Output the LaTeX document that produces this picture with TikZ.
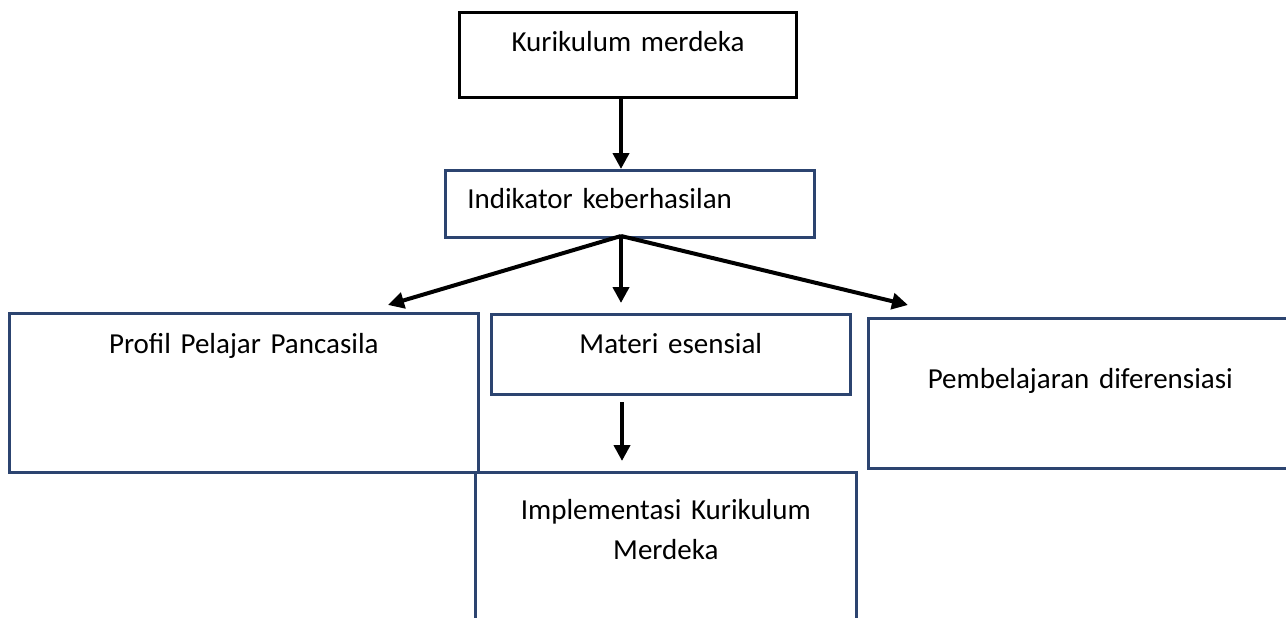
\documentclass[tikz,border=0pt]{standalone}
\usepackage{fontspec}
\setmainfont{Carlito}
\usepackage{xcolor}
\usetikzlibrary{arrows.meta,positioning}
\definecolor{navy}{HTML}{2C4470}

\begin{document}
\begin{tikzpicture}[
    x=1pt, y=-1pt,
    font=\fontsize{29}{40}\selectfont,
    box/.style={draw=navy, line width=2.6pt, anchor=north west, inner sep=0pt,
                align=center},
    topbox/.style={box, draw=black, line width=3pt},
    arr/.style={-{Triangle[length=16pt, width=16pt]}, line width=4pt}]
    \useasboundingbox (0,0) rectangle (1286,618);
    \clip (0,0) rectangle (1286,618);
    \node[topbox, text width=337pt, text height=39pt, text depth=46pt] (km) at (458,11) {Kurikulum merdeka};
    \node[box, align=left, inner xsep=22pt, text width=325pt, text height=38pt, text depth=29pt] (ind) at (444,169) {Indikator keberhasilan};
    \node[box, text width=469pt, text height=40pt, text depth=119pt] (pro) at (8,312) {Profil Pelajar Pancasila};
    \node[box, text width=359pt, text height=39pt, text depth=41pt] (mat) at (490,313) {Materi esensial};
    \node[box, text width=424pt, text height=70pt, text depth=80pt] (pem) at (867,317) {Pembelajaran diferensiasi};
    \node[box, text width=381pt, text height=47pt, text depth=160pt] (imp) at (474,471) {Implementasi Kurikulum\\ Merdeka};
    % arrow ends
    \coordinate (hub) at (621,236);
    \coordinate (tipL) at (388,305);
    \coordinate (tipM) at (621,303);
    \coordinate (tipR) at (908,305);
    \coordinate (low1) at (622,402);
    \coordinate (low2) at (622,461);
    \draw[arr] (km.south -| hub) -- (ind.north -| hub);
    \draw[arr] (hub) -- (tipL);
    \draw[arr] (hub) -- (tipM);
    \draw[arr] (hub) -- (tipR);
    \draw[arr] (low1) -- (low2);
\end{tikzpicture}
\end{document}
